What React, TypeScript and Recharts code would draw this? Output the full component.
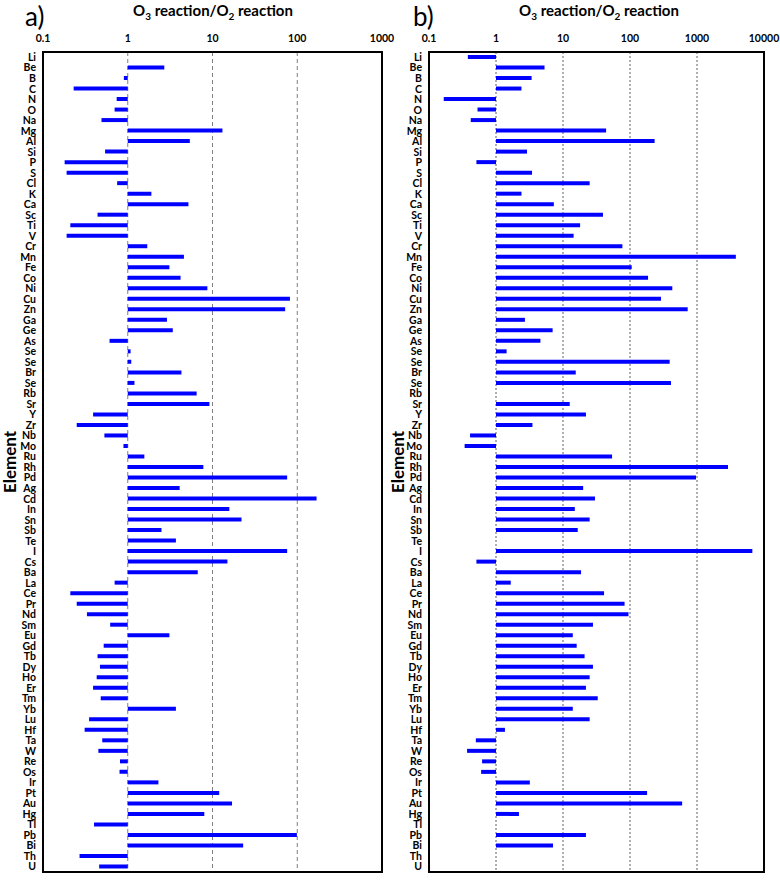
import React from 'react';
import { BarChart, Bar, XAxis, YAxis, CartesianGrid, ReferenceArea } from 'recharts';

// element order, top to bottom (Se appears three times in the source figure)
const ELEMENTS = [
    'Li', 'Be', 'B', 'C', 'N', 'O', 'Na', 'Mg', 'Al', 'Si', 'P', 'S', 'Cl', 'K', 'Ca', 'Sc', 'Ti', 'V', 'Cr', 'Mn',
    'Fe', 'Co', 'Ni', 'Cu', 'Zn', 'Ga', 'Ge', 'As', 'Se', 'Se', 'Br', 'Se', 'Rb', 'Sr', 'Y', 'Zr', 'Nb', 'Mo', 'Ru', 'Rh',
    'Pd', 'Ag', 'Cd', 'In', 'Sn', 'Sb', 'Te', 'I', 'Cs', 'Ba', 'La', 'Ce', 'Pr', 'Nd', 'Sm', 'Eu', 'Gd', 'Tb', 'Dy', 'Ho',
    'Er', 'Tm', 'Yb', 'Lu', 'Hf', 'Ta', 'W', 'Re', 'Os', 'Ir', 'Pt', 'Au', 'Hg', 'Tl', 'Pb', 'Bi', 'Th', 'U',
];

// a) O3 reaction / O2 reaction
const RATIO_A: (number | null)[] = [
    null, 2.7, 0.9, 0.23, 0.74, 0.7, 0.49, 13.1, 5.4, 0.54, 0.18, 0.19, 0.75, 1.9, 5.2, 0.44, 0.21, 0.19, 1.7, 4.6,
    3.1, 4.2, 8.7, 82, 72, 2.9, 3.4, 0.61, 1.08, 1.1, 4.3, 1.2, 6.5, 9.2, 0.39, 0.25, 0.53, 0.89, 1.57, 7.8,
    76, 4.1, 169, 15.8, 22, 2.5, 3.7, 76, 15, 6.7, 0.7, 0.21, 0.25, 0.33, 0.62, 3.1, 0.52, 0.44, 0.47, 0.43,
    0.39, 0.48, 3.7, 0.35, 0.31, 0.5, 0.45, 0.81, 0.8, 2.3, 12, 17, 8.0, 0.4, 99, 23, 0.27, 0.46,
];

// b) O3 reaction / O2 reaction
const RATIO_B: (number | null)[] = [
    0.38, 5.3, 3.4, 2.4, 0.166, 0.53, 0.42, 44, 233, 2.9, 0.51, 3.45, 25, 2.4, 7.3, 39.5, 18, 14.4, 77, 3800,
    106, 186, 428, 290, 726, 2.7, 7.0, 4.6, 1.44, 391, 15.5, 409, null, 12.6, 22, 3.5, 0.41, 0.34, 54, 2900,
    966, 20, 30, 15, 25, 16.6, null, 6700, 0.51, 18.6, 1.66, 41, 83, 95, 28, 14, 16, 21, 28, 25,
    22, 33, 14, 25, 1.36, 0.5, 0.37, 0.62, 0.6, 3.2, 180, 600, 2.2, null, 22, 7.1, null, null,
];

const TICKS_A = [0.1, 1, 10, 100, 1000];
const TICKS_B = [0.1, 1, 10, 100, 1000, 10000];

const rows = ELEMENTS.map((name, i) => ({ i, name, a: RATIO_A[i], b: RATIO_B[i] }));

// bars grow out of 1 in either direction
const span = (v: number | null | undefined) => (v == null ? null : [Math.min(1, v), Math.max(1, v)]);

const FONT = 'Lato, "Open Sans", sans-serif';
const tickStyle = { fontSize: 10.5, fontWeight: 700, fill: '#000', fontFamily: FONT };

function Panel({ keyName, ticks, width, yWidth, marginRight, dash, gridColor }: {
    keyName: 'a' | 'b'; ticks: number[]; width: number; yWidth: number; marginRight: number; dash: string; gridColor: string;
}) {
    const lo = ticks[0];
    const hi = ticks[ticks.length - 1];
    return (
        <BarChart
            width={width}
            height={883}
            data={rows}
            layout="vertical"
            margin={{ top: 20, right: marginRight, bottom: 11, left: 0 }}
            barCategoryGap={0}
        >
            <CartesianGrid horizontal={false} stroke={gridColor} strokeDasharray={dash} />
            <XAxis
                type="number"
                scale="log"
                orientation="top"
                domain={[lo, hi]}
                ticks={ticks}
                allowDataOverflow
                axisLine={false}
                tickLine={false}
                tickSize={4}
                tickMargin={6}
                height={32}
                interval={0}
                tick={tickStyle}
            />
            <YAxis
                type="category"
                dataKey="i"
                width={yWidth}
                axisLine={false}
                tickLine={false}
                tickSize={0}
                tickMargin={7}
                interval={0}
                tick={tickStyle}
                tickFormatter={(i: number) => ELEMENTS[i]}
            />
            <Bar dataKey={(d: any) => span(d[keyName])} fill="#0000ff" barSize={4} isAnimationActive={false} />
            {/* frame around the plot */}
            <ReferenceArea
                x1={lo}
                x2={hi}
                y1={0}
                y2={ELEMENTS.length - 1}
                ifOverflow="visible"
                fill="#fff"
                fillOpacity={0}
                stroke="#000"
                strokeWidth={2}
            />
        </BarChart>
    );
}

function Title({ left }: { left: number }) {
    return (
        <div style={{ position: 'absolute', left, top: 0, width: 340, textAlign: 'center', fontFamily: FONT, fontWeight: 700, fontSize: 15, lineHeight: '20px' }}>
            O<sub style={{ fontSize: 10 }}>3</sub> reaction/O<sub style={{ fontSize: 10 }}>2</sub> reaction
        </div>
    );
}

function ElementLabel({ left }: { left: number }) {
    return (
        <div style={{
            position: 'absolute', left, top: 462, transform: 'translate(-50%, -50%) rotate(-90deg)',
            fontFamily: FONT, fontWeight: 700, fontSize: 17, whiteSpace: 'nowrap',
        }}>
            Element
        </div>
    );
}

export default function App() {
    return (
        <div style={{ position: 'absolute', left: 0, top: 0, width: 780, height: 883, background: '#fff' }}>
            <div style={{ position: 'absolute', left: 0, top: 0 }}>
                <Panel keyName="a" ticks={TICKS_A} width={400} yWidth={43} marginRight={18} dash="4 3" gridColor="#808080" />
            </div>
            <div style={{ position: 'absolute', left: 390, top: 0 }}>
                <Panel keyName="b" ticks={TICKS_B} width={390} yWidth={39} marginRight={16} dash="2 2" gridColor="#606060" />
            </div>
            <div style={{ position: 'absolute', left: 25, top: 3, fontFamily: FONT, fontSize: 26, lineHeight: '26px' }}>a)</div>
            <div style={{ position: 'absolute', left: 413, top: 3, fontFamily: FONT, fontSize: 26, lineHeight: '26px' }}>b)</div>
            <Title left={43} />
            <Title left={429} />
            <ElementLabel left={9} />
            <ElementLabel left={397} />
        </div>
    );
}
